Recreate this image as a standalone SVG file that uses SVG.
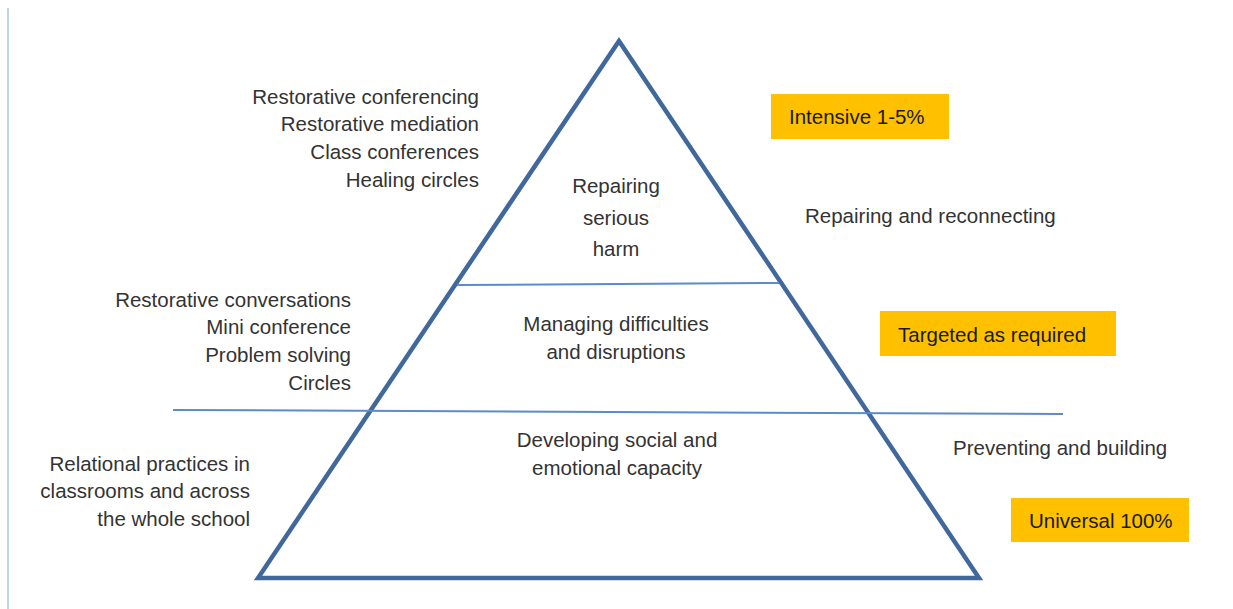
<svg xmlns="http://www.w3.org/2000/svg" width="1233" height="609" viewBox="0 0 1233 609">
<style>
.t{font-family:"Liberation Sans",Arial,sans-serif;font-size:20.5px;fill:#333333}
.e{text-anchor:end}
.m{text-anchor:middle}
.b{font-family:"Liberation Sans",Arial,sans-serif;font-size:20.5px;fill:#1a1a1a}
.box{fill:#FFC000}
.div{stroke:#5B8BC8;stroke-width:2;fill:none}
</style>
<rect width="1233" height="609" fill="#ffffff"/>
<line x1="8" y1="8" x2="8" y2="609" stroke="#A9C8E8" stroke-width="1.5"/>
<g id="pyramid">
<polygon points="619,41 258,578 979,578" fill="none" stroke="#41689C" stroke-width="4.5" stroke-linejoin="miter"/>
</g>
<g id="connectors">
<line class="div" x1="457" y1="285" x2="779" y2="283"/>
<line class="div" x1="173" y1="410" x2="1063" y2="414"/>
</g>
<g id="tier-top">
<text class="t m" x="616" y="193">Repairing</text>
<text class="t m" x="616" y="225">serious</text>
<text class="t m" x="616" y="256">harm</text>
</g>
<g id="tier-middle">
<text class="t m" x="616" y="331">Managing difficulties</text>
<text class="t m" x="616" y="359">and disruptions</text>
</g>
<g id="tier-bottom">
<text class="t m" x="617" y="447">Developing social and</text>
<text class="t m" x="617" y="475">emotional capacity</text>
</g>
<g id="left-top">
<text class="t e" x="479" y="104">Restorative conferencing</text>
<text class="t e" x="479" y="131">Restorative mediation</text>
<text class="t e" x="479" y="159">Class conferences</text>
<text class="t e" x="479" y="187">Healing circles</text>
</g>
<g id="left-middle">
<text class="t e" x="351" y="307">Restorative conversations</text>
<text class="t e" x="351" y="334">Mini conference</text>
<text class="t e" x="351" y="362">Problem solving</text>
<text class="t e" x="351" y="390">Circles</text>
</g>
<g id="left-bottom">
<text class="t e" x="250" y="471">Relational practices in</text>
<text class="t e" x="250" y="498">classrooms and across</text>
<text class="t e" x="250" y="526">the whole school</text>
</g>
<g id="right-top">
<text class="t" x="805" y="223">Repairing and reconnecting</text>
</g>
<g id="right-bottom">
<text class="t" x="953" y="455">Preventing and building</text>
</g>
<g id="intensive">
<rect class="box" x="771" y="94" width="178" height="45"/>
<text class="b" x="789" y="124">Intensive 1-5%</text>
</g>
<g id="targeted">
<rect class="box" x="880" y="311" width="236" height="45"/>
<text class="b" x="898" y="342">Targeted as required</text>
</g>
<g id="universal">
<rect class="box" x="1011" y="498" width="178" height="44"/>
<text class="b" x="1029" y="528">Universal 100%</text>
</g>
</svg>
